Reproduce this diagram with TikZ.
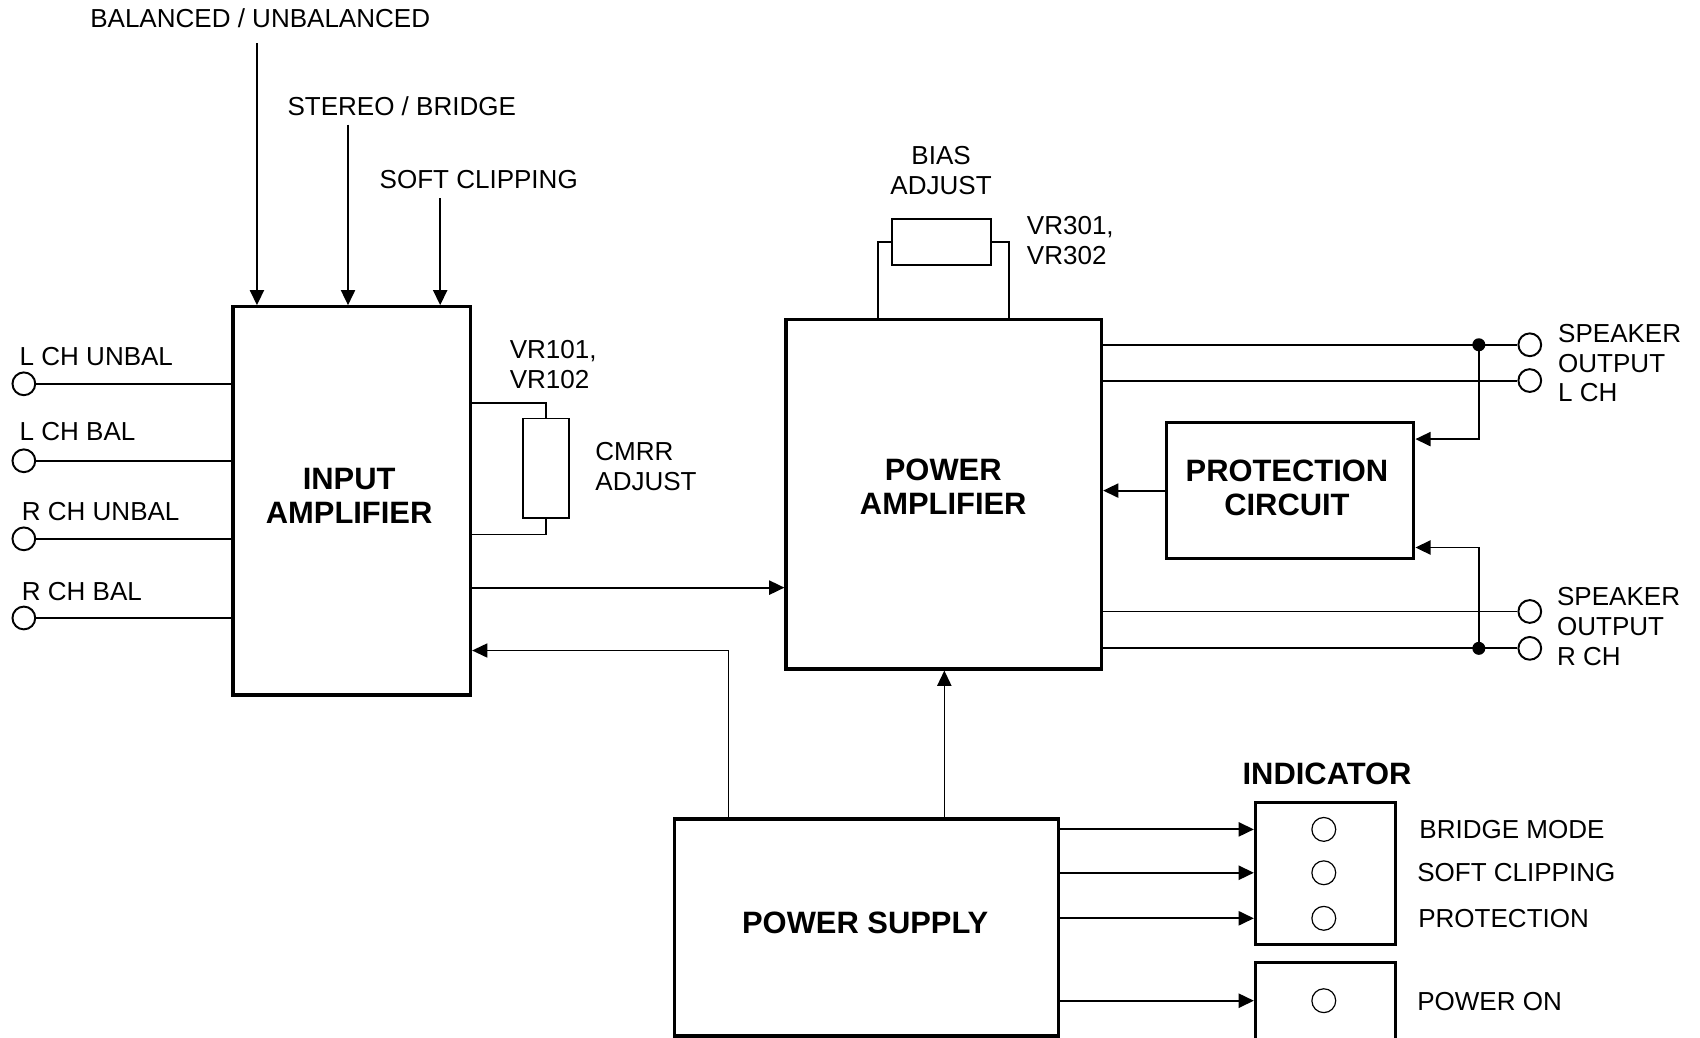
\documentclass[tikz,border=0pt]{standalone}
\usepackage{fontspec}
\setmainfont{Liberation Sans}
\usepackage{tikz}
\usetikzlibrary{positioning,arrows.meta,calc}

\begin{document}
\begin{tikzpicture}[x=1pt,y=-1pt,>={Triangle[length=14pt,width=13pt]},
  block/.style={draw,line width=3pt,inner sep=0pt},
  blocktxt/.style={align=center,inner sep=0pt,font=\fontsize{28.5}{32}\selectfont\bfseries},
  lbl/.style={inner sep=0pt,align=left,font=\fontsize{24}{27.5}\selectfont},
  wire/.style={line width=1.8pt},
  term/.style={draw,circle,line width=1.8pt,minimum size=21pt,inner sep=0pt},
  lamp/.style={draw,circle,line width=1.1pt,minimum size=22pt,inner sep=0pt},
  dot/.style={fill,circle,minimum size=12pt,inner sep=0pt},
  pot/.style={draw,line width=1.8pt,inner sep=0pt}]
\useasboundingbox (0,0) rectangle (1568,957);
% blocks
\node[block,minimum width=219pt,minimum height=358pt] (inamp) at (324.5,462) {};
\node[block,minimum width=291pt,minimum height=322pt] (pamp) at (870.5,456) {};
\node[block,minimum width=228pt,minimum height=125pt] (prot) at (1190,452.5) {};
\node[block,minimum width=354pt,minimum height=200pt] (psu) at (799,855.5) {};
\node[block,minimum width=129pt,minimum height=131pt] (ind) at (1222.5,805.5) {};
\node[block,minimum width=129pt,minimum height=80pt] (indpw) at (1222.5,928) {};
\node[blocktxt] (inamp-t) at (322,457.5) {INPUT\\AMPLIFIER};
\node[blocktxt] (pamp-t) at (870,449) {POWER\\AMPLIFIER};
\node[blocktxt] (prot-t) at (1187,450) {PROTECTION\\CIRCUIT};
\node[blocktxt] (psu-t) at (798,851) {POWER SUPPLY};
\node[blocktxt] (indlbl) at (1224,714) {INDICATOR};

% switches on top of the input amplifier
\node[lbl] (balsel) at (240,17) {BALANCED / UNBALANCED};
\node[lbl,anchor=west] (stsel) at (265,98) {STEREO / BRIDGE};
\node[lbl,anchor=west] (scsel) at (350,166) {SOFT CLIPPING};
\draw[wire,->,shorten <=14pt] (balsel.south -| 237,0) -- (inamp.north -| 237,0);
\draw[wire,->,shorten <=8pt] (stsel.south -| 321,0) -- (inamp.north -| 321,0);
\draw[wire,->,shorten <=8pt] (scsel.south -| 406,0) -- (inamp.north -| 406,0);

% inputs
\node[term] (tLU) at (22,354) {};
\node[term] (tLB) at (22,425) {};
\node[term] (tRU) at (22,497) {};
\node[term] (tRB) at (22,570) {};
\node[lbl,anchor=west] (tLU-l) at (18,329) {L CH UNBAL};
\node[lbl,anchor=west] (tLB-l) at (18,398) {L CH BAL};
\node[lbl,anchor=west] (tRU-l) at (20,472) {R CH UNBAL};
\node[lbl,anchor=west] (tRB-l) at (20,546) {R CH BAL};
\draw[wire] (tLU) -- (tLU -| inamp.west);
\draw[wire] (tLB) -- (tLB -| inamp.west);
\draw[wire] (tRU) -- (tRU -| inamp.west);
\draw[wire] (tRB) -- (tRB -| inamp.west);

% CMRR trimmer
\node[pot,minimum width=43pt,minimum height=92pt] (cmrr) at (503.5,432) {};
\draw[wire] (inamp.east |- 0,372) -| (cmrr.north);
\draw[wire] (inamp.east |- 0,493) -| (cmrr.south);
\node[lbl,anchor=west] (cmrrvr) at (470,336.5) {VR101,\\VR102};
\node[lbl,anchor=west] (cmrrlbl) at (549,430.5) {CMRR\\ADJUST};

% bias trimmer
\node[pot,minimum width=91pt,minimum height=42pt] (bias) at (868.5,223) {};
\draw[wire] (pamp.north -| 810,0) |- (bias.west);
\draw[wire] (pamp.north -| 931,0) |- (bias.east);
\node[lbl,align=center] (biaslbl) at (868,157) {BIAS\\ADJUST};
\node[lbl,anchor=west] (biasvr) at (947,222) {VR301,\\VR302};

% signal path
\draw[wire,->] (inamp.east |- 0,542) -- (pamp.west |- 0,542);

% speaker outputs
\node[term] (oL1) at (1411,318) {};
\node[term] (oL2) at (1411,351) {};
\node[term] (oR1) at (1411,564) {};
\node[term] (oR2) at (1411,598) {};
\node[dot] (jL) at (1364,318) {};
\node[dot] (jR) at (1364,598) {};
\draw[wire] (pamp.east |- oL1) -- (oL1);
\draw[wire] (pamp.east |- oL2) -- (oL2);
\draw[wire] (pamp.east |- oR1) -- (oR1);
\draw[wire] (pamp.east |- oR2) -- (oR2);
\draw[wire,->] (jL.center) |- (prot.east |- 0,405);
\draw[wire,->] (jR.center) |- (prot.east |- 0,505);
\draw[wire,->] (prot.west) -- (prot.west -| pamp.east);
\node[lbl,anchor=west] (spkL) at (1437,335) {SPEAKER\\OUTPUT\\L CH};
\node[lbl,anchor=west] (spkR) at (1436,578) {SPEAKER\\OUTPUT\\R CH};

% supply rails
\draw[wire,line width=1.3pt,->] (psu.north -| 871,0) -- (pamp.south -| 871,0);
\draw[wire,line width=1.3pt,->] (psu.north -| 672,0) |- (inamp.east |- 0,600);

% indicators
\node[lamp] (lBM) at (1221,765) {};
\node[lamp] (lSC) at (1221,805) {};
\node[lamp] (lPR) at (1221,847) {};
\node[lamp] (lPO) at (1221,923) {};
\draw[wire,->] (psu.east |- lBM) -- (ind.west |- lBM);
\draw[wire,->] (psu.east |- lSC) -- (ind.west |- lSC);
\draw[wire,->] (psu.east |- lPR) -- (ind.west |- lPR);
\draw[wire,->] (psu.east |- lPO) -- (indpw.west |- lPO);
\node[lbl,anchor=west] (tBM) at (1309,765) {BRIDGE MODE};
\node[lbl,anchor=west] (tSC) at (1307,805) {SOFT CLIPPING};
\node[lbl,anchor=west] (tPR) at (1308,847) {PROTECTION};
\node[lbl,anchor=west] (tPO) at (1307,924) {POWER ON};
\end{tikzpicture}
\end{document}
